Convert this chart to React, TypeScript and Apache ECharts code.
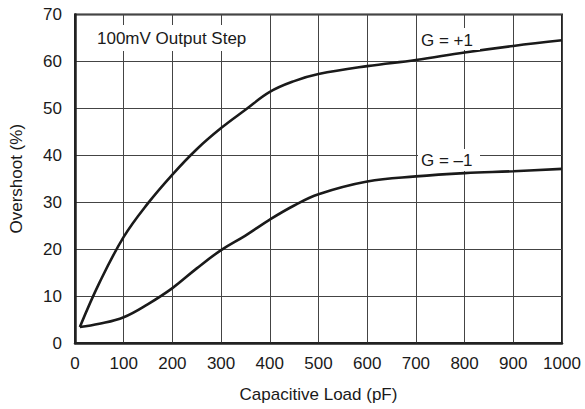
import React, { useEffect, useRef } from "react";
import * as echarts from "echarts";

const xTicks = { min: 0, max: 1000, interval: 100 };
const yTicks = { min: 0, max: 70, interval: 10 };

const gPlus1: [number, number][] = [
  [10, 3.4], [50, 12.8], [100, 22.6], [150, 29.8], [200, 35.9], [250, 41.3],
  [300, 45.8], [350, 49.7], [400, 53.5], [450, 55.8], [500, 57.3],
  [600, 59.0], [700, 60.3], [800, 61.9], [900, 63.3], [1000, 64.5],
];

const gMinus1: [number, number][] = [
  [10, 3.4], [50, 4.1], [100, 5.5], [150, 8.3], [200, 11.7], [250, 15.9],
  [300, 19.8], [350, 22.9], [400, 26.3], [450, 29.3], [500, 31.7], [600, 34.4],
  [700, 35.5], [800, 36.2], [900, 36.6], [1000, 37.1],
];

const labels = {
  title: "100mV Output Step",
  plus: "G = +1",
  minus: "G = \u20131",
  xName: "Capacitive Load (pF)",
  yName: "Overshoot (%)",
};

const FONT = "'Liberation Sans', Arial, Helvetica, sans-serif";
const INK = "#1a1a1a";

export default function App() {
  const ref = useRef<HTMLDivElement>(null);
  useEffect(() => {
    document.body.style.margin = "0";
    if (!ref.current) return;
    const chart = echarts.init(ref.current, null, { renderer: "svg" });
    const lineSeries = (name: string, data: [number, number][]) => ({
      name,
      type: "line",
      data,
      smooth: 0.4,
      symbol: "none",
      lineStyle: { color: INK, width: 2.6 },
      z: 3,
    });
    const labelBox = (text: string, x: number, y: number, w: number, h: number, tx: number, ty: number) => ({
      type: "group",
      children: [
        { type: "rect", shape: { x, y, width: w, height: h }, style: { fill: "#fff" }, z: 10 },
        {
          type: "text",
          x: tx,
          y: ty,
          style: { text, font: `17px ${FONT}`, fill: INK, textVerticalAlign: "middle", textAlign: "left" },
          z: 11,
        },
      ],
    });
    chart.setOption({
      animation: false,
      grid: {
        left: 75, right: 23, top: 14.5, bottom: 66,
        show: true, borderColor: "#222", borderWidth: 2, containLabel: false,
      },
      xAxis: {
        type: "value",
        min: xTicks.min, max: xTicks.max, interval: xTicks.interval,
        name: labels.xName, nameLocation: "middle", nameGap: 43,
        nameTextStyle: { fontFamily: FONT, fontSize: 17, color: INK },
        axisLine: { show: true, onZero: false, lineStyle: { color: "#222", width: 2.5 } },
        axisTick: { show: false },
        axisLabel: { fontFamily: FONT, fontSize: 17, color: INK, margin: 12, formatter: (v: number) => String(v) },
        splitLine: { show: true, lineStyle: { color: "#444", width: 1 } },
      },
      yAxis: {
        type: "value",
        min: yTicks.min, max: yTicks.max, interval: yTicks.interval,
        name: labels.yName, nameLocation: "middle", nameGap: 50,
        nameTextStyle: { fontFamily: FONT, fontSize: 17, color: INK },
        axisLine: { show: true, onZero: false, lineStyle: { color: "#222", width: 2.5 } },
        axisTick: { show: false },
        axisLabel: { fontFamily: FONT, fontSize: 17, color: INK, margin: 13, formatter: (v: number) => String(v) },
        splitLine: { show: true, lineStyle: { color: "#444", width: 1 } },
      },
      series: [lineSeries("G = +1", gPlus1), lineSeries("G = -1", gMinus1)],
      graphic: [
        labelBox(labels.title, 93, 25, 169, 26, 97, 38),
        labelBox(labels.plus, 418, 28, 62, 22, 421, 40),
        labelBox(labels.minus, 418, 149, 62, 22, 421, 160.5),
      ],
    });
    return () => chart.dispose();
  }, []);
  return <div ref={ref} style={{ width: 585, height: 409 }} />;
}
